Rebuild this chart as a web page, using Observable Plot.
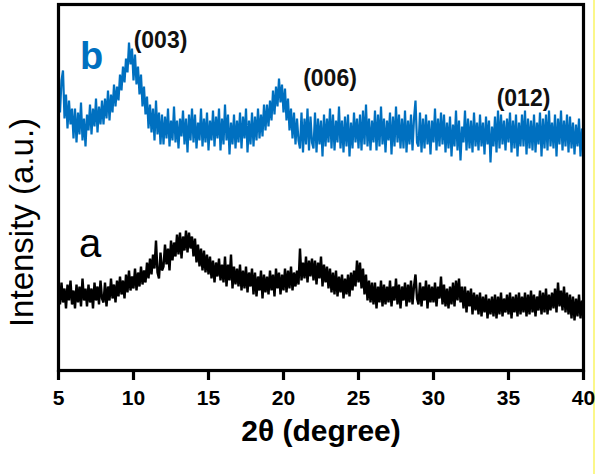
<!DOCTYPE html>
<html>
<head>
<meta charset="utf-8">
<script src="https://cdn.jsdelivr.net/npm/d3@7"></script>
<script src="https://cdn.jsdelivr.net/npm/@observablehq/plot@0.6"></script>
<style>
  html, body { margin: 0; padding: 0; background: #fff; }
  #wrap { position: relative; width: 600px; height: 474px; overflow: hidden; }
  #edge { position: absolute; left: 593px; top: 0; width: 2px; height: 474px; background: #fbf78a; }
</style>
</head>
<body>
<div id="wrap"><div id="edge"></div></div>
<script>
// 2θ scan: start 5°, step 0.1°, to 40°
const thetaStart = 5;
const thetaStep = 0.1;

// Series b (blue) intensity, a.u. — one row per degree (x.0 … x.9)
const seriesB = [
  280,258,290,300,252,276,242,270,246,262,  // 5
  232,262,228,258,236,268,230,252,224,256,  // 6
  240,266,236,262,244,272,238,264,246,270,  // 7
  246,272,252,280,250,276,258,286,264,284,  // 8
  270,296,280,304,288,312,298,328,306,322,  // 9
  290,316,286,304,276,296,264,284,256,274,  // 10
  242,266,238,262,230,270,236,258,226,256,  // 11
  226,254,232,262,224,250,230,264,228,250,  // 12
  222,252,234,260,226,252,218,256,230,262,  // 13
  228,256,222,248,230,262,224,252,228,258,  // 14
  220,250,230,260,224,254,232,262,220,252,  // 15
  226,266,230,256,216,248,226,256,222,250,  // 16
  228,258,222,254,232,262,218,250,226,258,  // 17
  224,254,230,262,232,256,234,266,240,266,  // 18
  244,270,250,280,256,284,264,292,268,286,  // 19
  258,282,250,272,240,262,232,258,226,252,  // 20
  230,222,258,218,252,226,262,220,254,228,  // 21
  222,258,218,252,226,250,214,256,224,252,  // 22
  228,262,222,256,220,250,228,264,222,250,  // 23
  218,254,224,256,214,248,222,258,228,252,  // 24
  222,256,220,260,226,266,224,252,220,250,  // 25
  228,260,220,256,224,264,226,252,218,250,  // 26
  230,258,216,254,224,264,228,256,222,252,  // 27
  222,260,218,250,226,256,220,252,270,228,  // 28
  224,258,218,252,222,256,226,250,216,250,  // 29
  228,262,220,252,224,258,226,256,218,248,  // 30
  222,254,214,246,224,260,220,250,210,244,  // 31
  228,260,220,252,222,250,218,258,224,248,  // 32
  220,256,224,248,216,254,226,250,208,244,  // 33
  224,254,218,260,222,256,226,250,220,252,  // 34
  228,258,218,250,222,256,214,248,224,256,  // 35
  224,260,216,252,222,250,220,256,218,248,  // 36
  226,258,214,252,222,256,220,260,224,248,  // 37
  222,256,214,252,226,260,220,250,224,256,  // 38
  218,254,222,248,216,246,224,252,214,242,  // 39
  230                                       // 40
];

// Series a (black) intensity, a.u.
const seriesA = [
  84,66,88,68,82,62,86,70,90,66,            // 5
  80,62,86,68,84,64,92,70,82,64,            // 6
  86,68,82,62,88,70,84,66,90,72,            // 7
  68,88,64,84,70,92,72,86,68,90,            // 8
  74,94,76,90,72,96,78,100,80,94,           // 9
  82,102,80,98,84,104,86,100,88,108,        // 10
  92,112,96,116,102,130,98,92,118,100,      // 11
  104,126,106,122,100,130,110,128,114,136,  // 12
  116,138,112,134,120,140,118,138,122,134,  // 13
  114,132,108,126,104,122,100,120,98,116,   // 14
  96,114,92,110,88,108,94,112,90,106,       // 15
  88,114,84,106,90,116,82,104,86,102,       // 16
  84,106,80,100,82,104,78,98,84,102,        // 17
  76,98,74,94,80,100,72,96,78,94,           // 18
  76,100,80,96,74,102,82,98,76,96,          // 19
  80,102,78,100,82,104,80,98,84,100,        // 20
  86,122,90,108,92,114,88,110,94,112,       // 21
  90,110,86,108,92,114,84,106,88,104,       // 22
  82,102,78,98,76,100,74,94,78,96,          // 23
  72,92,76,96,74,98,80,100,84,110,          // 24
  88,108,82,102,76,96,70,90,68,88,          // 25
  66,88,62,84,68,90,64,86,66,84,            // 26
  68,90,64,84,70,92,66,86,62,84,            // 27
  70,88,64,86,68,90,66,84,96,72,            // 28
  66,88,64,84,70,90,62,86,68,84,            // 29
  68,88,64,84,72,94,66,86,64,82,            // 30
  62,84,66,88,64,90,70,92,68,84,            // 31
  62,84,58,80,64,82,56,78,60,76,            // 32
  56,78,54,74,58,76,52,72,56,74,            // 33
  54,76,52,74,56,78,54,72,58,76,            // 34
  56,78,52,74,58,76,54,78,56,74,            // 35
  58,78,54,76,56,80,58,76,54,74,            // 36
  60,80,56,78,58,82,56,76,60,78,            // 37
  62,82,58,88,64,80,60,84,58,78,            // 38
  56,76,52,74,50,72,54,76,52,70,            // 39
  62                                        // 40
];

const xTicks = [5, 10, 15, 20, 25, 30, 35, 40];

// Peak annotations (data units: 2θ, a.u.)
const peakLabels = ["(003)", "(006)", "(012)"];
const peakTheta  = [11.8, 23.1, 36.0];
const peakLabelI = [330, 292, 272];

// Curve labels
const curveNames  = ["b", "a"];
const curveColors = ["#0070c0", "#000000"];
const curveTheta  = [7.2, 7.1];
const curveLabelI = [314, 126];

// Axis titles (placed in data units, outside the frame)
const yTitle = "Intensity (a.u.)";
const xTitle = "2θ (degree)";
const yTitleTheta = 2.6, yTitleI = 148;

const rowsB = seriesB.map((v, i) => ({theta: thetaStart + i * thetaStep, I: v}));
const rowsA = seriesA.map((v, i) => ({theta: thetaStart + i * thetaStep, I: v}));
const peaks = peakLabels.map((t, i) => ({t, theta: peakTheta[i], I: peakLabelI[i]}));

const font = "'Liberation Sans', Arial, sans-serif";

const chart = Plot.plot({
  width: 600,
  height: 474,
  marginLeft: 58,
  marginRight: 17,
  marginTop: 4,
  marginBottom: 104,
  style: {fontFamily: font, background: "transparent", color: "#000", overflow: "visible"},
  x: {domain: [5, 40]},
  y: {domain: [0, 366], axis: null},
  marks: [
    Plot.line(rowsB, {x: "theta", y: "I", stroke: curveColors[0], strokeWidth: 2.2, strokeLinejoin: "miter"}),
    Plot.line(rowsA, {x: "theta", y: "I", stroke: curveColors[1], strokeWidth: 2.4, strokeLinejoin: "miter"}),
    Plot.frame({stroke: "#000", strokeWidth: 3.2}),
    Plot.axisX({ticks: xTicks, tickSize: 10, tickPadding: 10, strokeWidth: 3.2,
      fontSize: 21, fontWeight: "bold", label: null, tickFormat: d => String(d)}),
    Plot.text(peaks, {x: "theta", y: "I", text: "t", fontSize: 23, fontWeight: "bold", fill: "#111"}),
    Plot.text([0], {x: () => curveTheta[0], y: () => curveLabelI[0], text: () => curveNames[0],
      fontSize: 38, fontWeight: "bold", fill: curveColors[0]}),
    Plot.text([0], {x: () => curveTheta[1], y: () => curveLabelI[1], text: () => curveNames[1],
      fontSize: 40, fill: curveColors[1]}),
    Plot.text([yTitle], {x: () => yTitleTheta, y: () => yTitleI, text: d => d, rotate: -90,
      fontSize: 33, fill: "#000"}),
    Plot.text([xTitle], {frameAnchor: "bottom", dy: 70, fontSize: 30, fontWeight: "bold", fill: "#000"})
  ]
});
document.getElementById("wrap").appendChild(chart);
chart.style.position = "absolute";
chart.style.left = "0";
chart.style.top = "0";
</script>
</body>
</html>
